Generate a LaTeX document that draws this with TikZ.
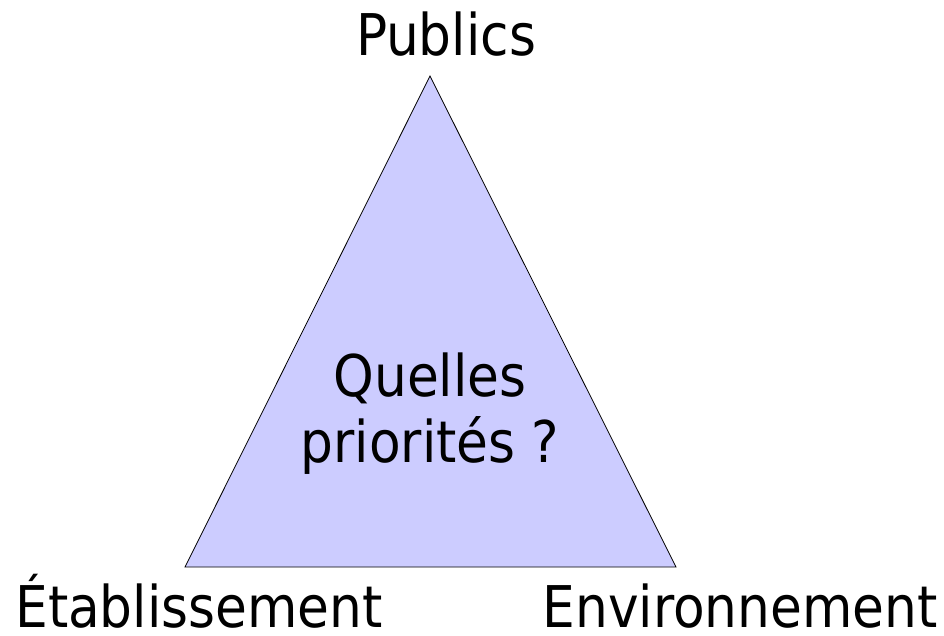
\documentclass[tikz,border=0pt]{standalone}
\usepackage{fontspec}
\setmainfont{DejaVu Sans Condensed}
\begin{document}
\begin{tikzpicture}[x=1pt,y=-1pt,
  lbl/.style={anchor=base,inner sep=0pt,font=\fontsize{57.5}{66}\selectfont},
  tri/.style={draw=black,fill={rgb,255:red,204;green,204;blue,255},line width=0.8pt}]
\useasboundingbox (0,0) rectangle (944,635);
\coordinate (top) at (430,76);
\coordinate (bl) at (185,567);
\coordinate (br) at (676,567);
\draw[tri] (top) -- (bl) -- (br) -- cycle;
\node[lbl] (pub) at (446,55) {Publics};
\node[lbl] (q1) at (430,396) {Quelles};
\node[lbl] (q2) at (430,462) {priorités ?};
\node[lbl,text depth=0pt] (eta) at (199,627) {Établissement};
\node[lbl,text depth=0pt] (env) at (740,627) {Environnement};
\end{tikzpicture}
\end{document}
